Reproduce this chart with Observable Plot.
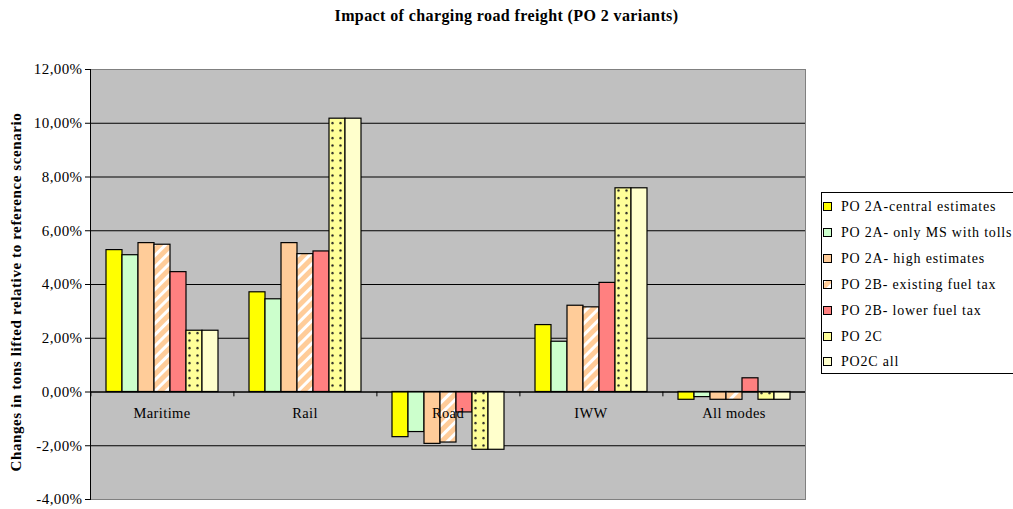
<!DOCTYPE html>
<html>
<head>
<meta charset="utf-8">
<script src="https://cdn.jsdelivr.net/npm/d3@7"></script>
<script src="https://cdn.jsdelivr.net/npm/@observablehq/plot@0.6"></script>
<style>
  html, body { margin: 0; padding: 0; background: #fff; }
  #wrap { position: relative; width: 1013px; height: 509px; overflow: hidden; font-family: "Liberation Serif", "Times New Roman", serif; }
  #title { position: absolute; left: 0; width: 1013px; top: 7px; text-align: center; font-weight: bold; font-size: 16px; letter-spacing: 0.4px; padding-left: 0px; }
  #ylabel { position: absolute; left: 16px; top: 292px; transform: translate(-50%, -50%) rotate(-90deg); white-space: nowrap; font-weight: bold; font-size: 15px; letter-spacing: 0.6px; }
  #legend { position: absolute; left: 821px; top: 192px; width: 200px; height: 182px; border: 1px solid #000; background: #fff; box-sizing: border-box; }
  .item { position: absolute; left: 1px; height: 18px; line-height: 18px; font-size: 14px; letter-spacing: 0.8px; white-space: nowrap; }
  .item svg { position: absolute; left: 0; top: 4px; }
  .item span { position: absolute; left: 18px; top: 0; }
</style>
</head>
<body>
<svg width="0" height="0" style="position:absolute">
  <defs>
    <pattern id="hatch" patternUnits="userSpaceOnUse" width="8" height="8" patternTransform="rotate(45)">
      <rect width="8" height="8" fill="#FFCC99"></rect>
      <rect x="0" y="0" width="3" height="8" fill="#FFFFFF"></rect>
    </pattern>
    <pattern id="dots" patternUnits="userSpaceOnUse" width="8" height="7.5">
      <rect width="8" height="7.5" fill="#FFFF99"></rect>
      <circle cx="4.5" cy="3" r="1.2" fill="#222"></circle>
    </pattern>
  </defs>
</svg>
<div id="wrap">
  <div id="chart"></div>
  <div id="title">Impact of charging road freight (PO 2 variants)</div>
  <div id="ylabel">Changes in tons lifted relative to reference scenario</div>
  <div id="legend"></div>
</div>
<script>
const categories = ["Maritime", "Rail", "Road", "IWW", "All modes"];
const seriesNames = [
  "PO 2A-central estimates",
  "PO 2A- only MS with tolls",
  "PO 2A- high estimates",
  "PO 2B- existing fuel tax",
  "PO 2B- lower fuel tax",
  "PO 2C",
  "PO2C all"
];
const seriesFills = ["#FFFF00", "#CCFFCC", "#FFCC99", "url(#hatch)", "#FF8080", "url(#dots)", "#FFFFCC"];
// values in percent, per category
const po2aCentral = [5.28, 3.71, -1.68, 2.49, -0.29];
const po2aOnlyMS  = [5.09, 3.45, -1.49, 1.87, -0.19];
const po2aHigh    = [5.54, 5.54, -1.93, 3.21, -0.29];
const po2bExisting= [5.48, 5.13, -1.88, 3.15, -0.29];
const po2bLower   = [4.46, 5.23, -0.76, 4.06, 0.51];
const po2c        = [2.28, 10.17, -2.15, 7.58, -0.29];
const po2cAll     = [2.28, 10.17, -2.15, 7.58, -0.29];
const yTicks = [-4, -2, 0, 2, 4, 6, 8, 10, 12];

const seriesValues = [po2aCentral, po2aOnlyMS, po2aHigh, po2bExisting, po2bLower, po2c, po2cAll];
const rows = [];
seriesNames.forEach((s, si) => {
  categories.forEach((c, ci) => {
    rows.push({category: c, series: s, value: seriesValues[si][ci], fill: seriesFills[si]});
  });
});

const W = 1013, H = 509, mL = 89, mR = 208, mT = 69, mB = 10;
const facetW = (W - mL - mR) / categories.length;
const fmt = d => d.toFixed(2).replace(".", ",") + "%";

const chart = Plot.plot({
  width: W, height: H,
  marginLeft: mL, marginRight: mR, marginTop: mT, marginBottom: mB,
  fx: {domain: categories, padding: 0, axis: null, label: null},
  x: {domain: seriesNames, paddingInner: 0, paddingOuter: 0.747, axis: null},
  y: {domain: [-4, 12], ticks: yTicks, tickFormat: fmt, tickSize: 5, tickPadding: 3, label: null},
  color: {type: "identity"},
  style: {fontFamily: "'Liberation Serif', 'Times New Roman', serif", fontSize: "15px", letterSpacing: "0.4px", background: "transparent", color: "#000"},
  marks: [
    Plot.frame({facet: "super", fill: "#C0C0C0", stroke: "none"}),
    Plot.ruleY(yTicks, {stroke: "#000", strokeWidth: 1}),
    Plot.barY(rows, {fx: "category", x: "series", y: "value", fill: "fill", stroke: "#000", strokeWidth: 1.2}),
    Plot.ruleY([0], {stroke: "#000", strokeWidth: 1}),
    Plot.ruleX(categories, {fx: d => d, x: () => seriesNames[3], y1: 0, y2: -0.18, dx: -facetW / 2, stroke: "#000"}),
    Plot.text(categories, {fx: d => d, text: d => d, y: 0, dy: 21, frameAnchor: "middle", fill: "#000", fontSize: 14.5, letterSpacing: "0.6px"}),
    Plot.frame({facet: "super", stroke: "#808080", fill: "none"}),
    Plot.frame({facet: "super", anchor: "left", stroke: "#000"})
  ]
});
document.getElementById("chart").appendChild(chart);

// Legend
const legend = document.getElementById("legend");
seriesNames.forEach((s, i) => {
  const item = document.createElement("div");
  item.className = "item";
  item.style.top = (5 + i * 25.9) + "px";
  item.innerHTML = `<svg width="10" height="10"><rect x="0.5" y="0.5" width="8" height="8" fill="${seriesFills[i] === 'url(#dots)' ? '#FFFF99' : seriesFills[i]}" stroke="#000"></rect></svg><span>${s}</span>`;
  legend.appendChild(item);
});
</script>
</body>
</html>
